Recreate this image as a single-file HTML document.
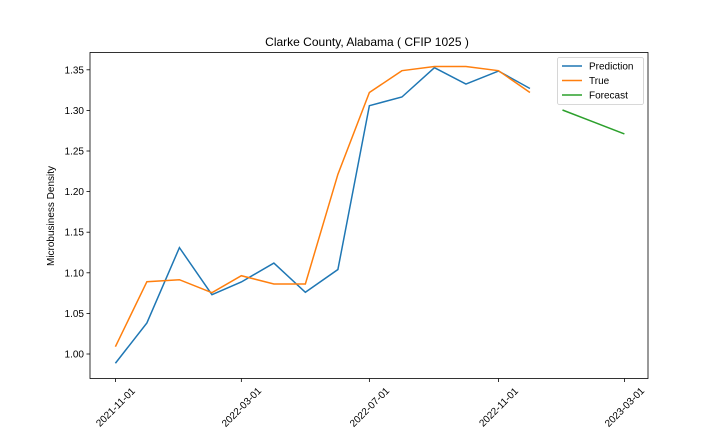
<!DOCTYPE html>
<html><head><meta charset="utf-8"><style>
body{margin:0;background:#fff;}
svg text{font-family:"Liberation Sans","DejaVu Sans",sans-serif;fill:#000;}
</style></head><body>
<svg id="chart" width="720" height="432" viewBox="0 0 720 432" xmlns="http://www.w3.org/2000/svg">
<rect width="720" height="432" fill="#fff"/>
<text x="367" y="46" font-size="12" text-anchor="middle">Clarke County, Alabama ( CFIP 1025 )</text>
<text transform="translate(54,216) rotate(-90)" font-size="10" text-anchor="middle">Microbusiness Density</text>
<g id="grid"></g>
<g id="series"></g>
<rect x="90" y="52.5" width="558" height="326" fill="none" stroke="#000" stroke-width="0.8"/>
<g>
<rect x="557.5" y="57.5" width="86" height="47" fill="#fff" stroke="#ccc" stroke-width="0.8" rx="2"/>
<line x1="562" y1="66" x2="582" y2="66" stroke="#1f77b4" stroke-width="1.5"/>
<text x="589" y="69.5" font-size="10">Prediction</text>
<line x1="562" y1="80.5" x2="582" y2="80.5" stroke="#ff7f0e" stroke-width="1.5"/>
<text x="589" y="84" font-size="10">True</text>
<line x1="562" y1="95" x2="582" y2="95" stroke="#2ca02c" stroke-width="1.5"/>
<text x="589" y="98.5" font-size="10">Forecast</text>
</g>
</svg>
<script>
const histDates = ["2021-11-01","2021-12-01","2022-01-01","2022-02-01","2022-03-01","2022-04-01","2022-05-01","2022-06-01","2022-07-01","2022-08-01","2022-09-01","2022-10-01","2022-11-01","2022-12-01"];
const predictionValues = [0.9886,1.0382,1.131,1.073,1.0887,1.112,1.076,1.104,1.3058,1.3165,1.3526,1.3325,1.3485,1.327];
const trueValues = [1.009,1.089,1.0915,1.0755,1.0964,1.0862,1.0862,1.2213,1.322,1.3489,1.354,1.354,1.3489,1.322];
const forecastDates = ["2023-01-01","2023-02-01","2023-03-01"];
const forecastValues = [1.3005,1.285,1.271];
const yTicks = [1.00,1.05,1.10,1.15,1.20,1.25,1.30,1.35];
const xTickLabels = ["2021-11-01","2022-03-01","2022-07-01","2022-11-01","2023-03-01"];

const NS="http://www.w3.org/2000/svg";
const d0=Date.parse("2021-11-01"), d1=Date.parse("2023-03-01");
function xS(d){return 115.4+(Date.parse(d)-d0)/(d1-d0)*(624.4-115.4);}
function yS(v){return 354-(v-1)*812;}
function mk(tag,attrs,parent){const e=document.createElementNS(NS,tag);for(const k in attrs)e.setAttribute(k,attrs[k]);parent.appendChild(e);return e;}
const grid=document.getElementById('grid');
yTicks.forEach(t=>{
  const y=yS(t);
  const l=mk('line',{x1:86.5,x2:90,y1:y,y2:y,stroke:'#000','stroke-width':0.8},grid);
  
  
  const tx=mk('text',{x:84,y:y+3.5,'font-size':10,'text-anchor':'end'},grid);
  tx.textContent=t.toFixed(2);
  
  
});
xTickLabels.forEach(t=>{
  const x=xS(t);
  const l=mk('line',{x1:x,x2:x,y1:378.5,y2:382,stroke:'#000','stroke-width':0.8},grid);
  
  
  const tx=mk('text',{x:0,y:3.5,'font-size':10,'text-anchor':'middle',transform:`translate(${x},${407}) rotate(-45)`},grid);
  tx.textContent=t;
  
  
});
const series=document.getElementById('series');
function line(dates,vals,color,name){
  const p=mk('polyline',{points:dates.map((d,i)=>xS(d)+','+yS(vals[i])).join(' '),fill:'none',stroke:color,'stroke-width':1.5},series);
  
  
}
line(histDates,predictionValues,'#1f77b4','prediction-line');
line(histDates,trueValues,'#ff7f0e','true-line');
line(forecastDates,forecastValues,'#2ca02c','forecast-line');
</script>
</body></html>
